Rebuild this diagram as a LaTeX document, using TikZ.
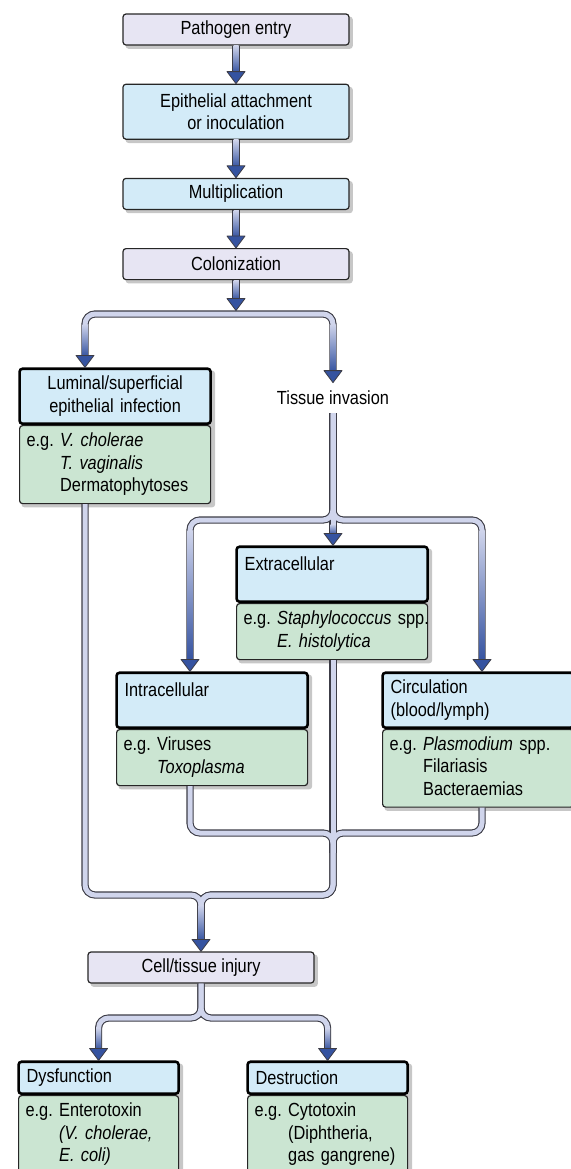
\documentclass[tikz,border=0pt]{standalone}
\usepackage{fontspec}
\setmainfont{Liberation Sans}[FakeStretch=0.86]
\usetikzlibrary{calc,fit,positioning,backgrounds}
\definecolor{Lilac}{HTML}{E7E5F3}
\definecolor{Sky}{HTML}{D3EBF8}
\definecolor{Sage}{HTML}{CBE5D2}
\definecolor{PipeFill}{HTML}{D0D5EC}
\definecolor{PipeEdge}{HTML}{3C3C46}
\definecolor{FlowBlue}{HTML}{3553A0}
\definecolor{Edge}{HTML}{262626}
\newcommand{\boxfont}{\fontsize{9.5pt}{11.25pt}\selectfont}
\newcommand{\eg}[1]{\begin{tabular}[t]{@{}l@{\ }l@{}}e.g.&#1\end{tabular}}
\newcommand{\flow}[3][0]{%
  \shade[top color=PipeFill,bottom color=FlowBlue] ($(#2)+(-2.5,#1)$) rectangle ($(#3)+(2.5,-11)$);
  \filldraw[fill=FlowBlue,draw=PipeEdge,line width=0.4pt,line join=round]
    ($(#3)+(-9,-12)$) -- (#3) -- ($(#3)+(9,-12)$) -- cycle;}

\begin{document}
\begin{tikzpicture}[x=0.5pt,y=-0.5pt,font=\boxfont,
    node distance=19pt,
    stage/.style={draw=Edge,line width=0.6pt,rounded corners=1.5pt,fill=Lilac,align=center,
      minimum width=113pt,minimum height=15.5pt,inner sep=2pt},
    stageblue/.style={stage,fill=Sky},
    head/.style={draw=black,line width=1.3pt,rounded corners=1.5pt,fill=Sky,align=left,
      text width=87.5pt,inner xsep=4pt,inner ysep=2pt,minimum height=27.5pt},
    body/.style={draw=Edge,line width=0.6pt,rounded corners=1.5pt,fill=Sage,align=left,
      text width=88.5pt,inner xsep=3.5pt,inner ysep=2.5pt,minimum height=28pt,anchor=north west},
    tag/.style={inner xsep=2pt,inner ysep=4pt},
    pipeout/.style={draw=PipeEdge,line width=3.6pt,rounded corners=5pt},
    pipein/.style={draw=PipeFill,line width=2.5pt,rounded corners=5pt},
    boxshadow/.style={fill=black!22,inner sep=0pt,rounded corners=1.5pt,xshift=1.6pt,yshift=-1.6pt}
]
\useasboundingbox (0,0) rectangle (571,1169);
\node[stage] (entry) at (236,29.5) {Pathogen entry};
\node[stageblue,below=of entry,minimum height=27.5pt] (attach) {Epithelial attachment\\or inoculation};
\node[stageblue,below=of attach] (mult) {Multiplication};
\node[stage,below=of mult] (colon) {Colonization};
\node[body,minimum height=39pt] (lumbody) at (19,425)
  {\eg{\textit{V. cholerae}\\&\textit{T. vaginalis}\\&Dermatophytoses}};
\node[head,above=0pt of lumbody,align=center] (lumhead) {Luminal/superficial\\epithelial infection};
\node[tag] (tissue) at (333,398) {Tissue invasion};
\node[body] (extbody) at (236,603) {\eg{\textit{Staphylococcus} spp.\\&\textit{E. histolytica}}};
\node[head,above=0pt of extbody,text height=9.8pt,text depth=13.7pt] (exthead) {Extracellular};
\node[body] (intbody) at (116,729) {\eg{Viruses\\&\textit{Toxoplasma}}};
\node[head,above=0pt of intbody,text height=9.8pt,text depth=13.7pt] (inthead) {Intracellular};
\node[body,minimum height=38pt] (cirbody) at (382,729)
  {\eg{\textit{Plasmodium} spp.\\&Filariasis\\&Bacteraemias}};
\node[head,above=0pt of cirbody] (cirhead) {Circulation\\(blood/lymph)};
\node[stage] (injury) at (201,967.5) {Cell/tissue injury};
\node[body,text width=73pt,minimum height=39pt] (dysbody) at (18,1095)
  {\eg{Enterotoxin\\&\textit{(V. cholerae,}\\&\textit{E. coli)}}};
\node[head,above=0pt of dysbody,text width=72pt,minimum height=16pt] (dyshead) {Dysfunction};
\node[body,text width=73pt,minimum height=39pt] (desbody) at (247,1095)
  {\eg{Cytotoxin\\&(Diphtheria,\\&gas gangrene)}};
\node[head,above=0pt of desbody,text width=72pt,minimum height=16pt] (deshead) {Destruction};

\coordinate (fork1) at (236,314);
\coordinate (colontip) at (236,310.5);
\coordinate (fork2) at (333,520);
\coordinate (join1) at (333,833);
\coordinate (join2) at (201,895);
\coordinate (fork3) at (201,1018);
\coordinate (lumcol) at (85,0);
\coordinate (intcol) at (190,0);
\coordinate (circol) at (482,0);

\foreach \layer in {pipeout,pipein}{
  \draw[\layer] (entry.south) -- ($(attach.north)+(0,-11)$);
  \draw[\layer] (attach.south) -- ($(mult.north)+(0,-11)$);
  \draw[\layer] (mult.south) -- ($(colon.north)+(0,-11)$);
  \draw[\layer] (colon.south) -- ($(colontip)+(0,-11)$);
  \draw[\layer] ($(lumcol |- lumhead.north)+(0,-11)$) |- (fork1) -| ($(tissue.north)+(0,-11)$);
  \draw[\layer] (tissue.south) -- (fork2) -| ($(intcol |- inthead.north)+(0,-11)$);
  \draw[\layer] (tissue.south) -- (fork2) -| ($(circol |- cirhead.north)+(0,-11)$);
  \draw[\layer] (tissue.south) -- ($(tissue |- exthead.north)+(0,-11)$);
  \draw[\layer] (intcol |- intbody.south) |- (join1) |- (join2) -- ($(injury.north)+(0,-11)$);
  \draw[\layer] (circol |- cirbody.south) |- (join1) |- (join2) -- ($(injury.north)+(0,-11)$);
  \draw[\layer] (join1 |- extbody.south) -- ($(join1)+(0,20)$);
  \draw[\layer] (lumcol |- lumbody.south) |- (join2) -- ($(injury.north)+(0,-11)$);
  \draw[\layer] (injury.south) -- (fork3) -| ($(dyshead.north)+(0,-11)$);
  \draw[\layer] (injury.south) -- (fork3) -| ($(deshead.north)+(0,-11)$);
}

\flow{entry.south}{attach.north}
\flow{attach.south}{mult.north}
\flow{mult.south}{colon.north}
\flow{colon.south}{colontip}
\flow[10]{lumcol |- fork1}{lumcol |- lumhead.north}
\flow[10]{tissue |- fork1}{tissue.north}
\flow[10]{intcol |- fork2}{intcol |- inthead.north}
\flow[10]{circol |- fork2}{circol |- cirhead.north}
\flow[4]{fork2}{tissue |- exthead.north}
\flow[10]{join2}{injury.north}
\flow[10]{dyshead.north |- fork3}{dyshead.north}
\flow[10]{deshead.north |- fork3}{deshead.north}

\begin{scope}[on background layer]
  \foreach \a/\b in {entry/entry,attach/attach,mult/mult,colon/colon,lumhead/lumbody,
      exthead/extbody,inthead/intbody,cirhead/cirbody,injury/injury,dyshead/dysbody,deshead/desbody}
    \node[boxshadow,fit=(\a)(\b)] {};
\end{scope}
\end{tikzpicture}
\end{document}
